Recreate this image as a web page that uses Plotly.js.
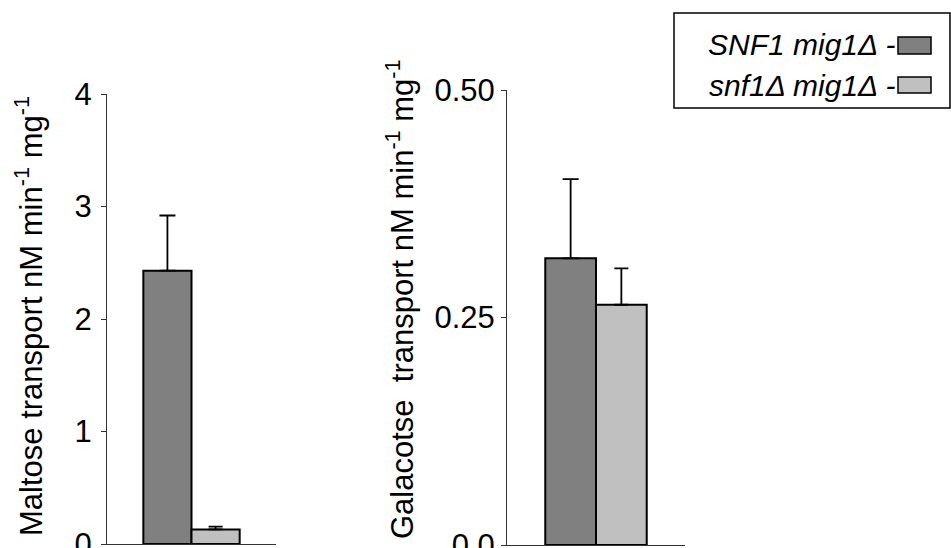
<!DOCTYPE html>
<html>
<head>
<meta charset="utf-8">
<script src="https://cdn.plot.ly/plotly-3.0.1.min.js"></script>
<style>html,body{margin:0;padding:0;background:#fff;}#chart{width:951px;height:548px;}</style>
</head>
<body>
<div id="chart"></div>
<script>
// ---- data ----
var strains = ["SNF1 mig1\u0394", "snf1\u0394 mig1\u0394"];
var maltose = [2.43, 0.13];
var maltoseErr = [0.49, 0.025];
var galactose = [0.315, 0.264];
var galactoseErr = [0.087, 0.04];
var maltoseTicks = [0, 1, 2, 3, 4];
var maltoseTickText = ["0", "1", "2", "3", "4"];
var galactoseTicks = [0, 0.25, 0.5];
var galactoseTickText = ["0.0", "0.25", "0.50"];
var maltoseTitle = "Maltose transport nM min<sup>-1</sup> mg<sup>-1</sup>";
var galactoseTitle = "Galacotse\u00a0 transport nM min<sup>-1</sup> mg<sup>-1</sup>";

var colors = ["#808080", "#c0c0c0"];
var capW = [8, 7];
var W = 951, H = 548;
function px(x){ return x / W; }
function py(y){ return (H - y) / H; }

var traces = [];
for (var i = 0; i < strains.length; i++) {
  traces.push({
    type: 'bar', name: strains[i], x: [0], y: [maltose[i]],
    xaxis: 'x', yaxis: 'y',
    marker: {color: colors[i], line: {color: '#000', width: 2}},
    error_y: {type: 'data', array: [maltoseErr[i]], arrayminus: [0], symmetric: false,
              color: '#000', thickness: 1.8, width: capW[i]},
    showlegend: false, hoverinfo: 'skip'
  });
}
for (var j = 0; j < strains.length; j++) {
  traces.push({
    type: 'bar', name: strains[j], x: [0], y: [galactose[j]],
    xaxis: 'x2', yaxis: 'y2',
    marker: {color: colors[j], line: {color: '#000', width: 2}},
    error_y: {type: 'data', array: [galactoseErr[j]], arrayminus: [0], symmetric: false,
              color: '#000', thickness: 1.8, width: capW[j]},
    showlegend: false, hoverinfo: 'skip'
  });
}

var fontFam = 'Liberation Sans, Arial, Helvetica, sans-serif';
var tickFont = {family: fontFam, size: 31, color: '#000'};

var xbase = {type: 'linear', range: [-0.5, 0.5], showticklabels: false, ticks: '',
  showgrid: false, zeroline: false, showline: true, linecolor: '#333', linewidth: 1, fixedrange: true};
var ybase = {showgrid: false, zeroline: false, showline: true, linecolor: '#333', linewidth: 1,
  ticks: 'outside', ticklen: 5, tickwidth: 1, tickcolor: '#333', tickfont: tickFont, fixedrange: true,
  ticklabeloverflow: 'allow'};

var layout = {
  width: W, height: H,
  margin: {l: 0, r: 0, t: 0, b: 0, pad: 0},
  paper_bgcolor: '#fff', plot_bgcolor: 'rgba(0,0,0,0)',
  barmode: 'group', bargap: 0.43, bargroupgap: 0,
  showlegend: false,
  xaxis: Object.assign({}, xbase, {domain: [px(107), px(276)], anchor: 'y'}),
  yaxis: Object.assign({}, ybase, {domain: [py(544), py(94)], range: [0, 4], anchor: 'x',
    tickvals: maltoseTicks, ticktext: maltoseTickText, ticklabelstandoff: 3}),
  xaxis2: Object.assign({}, xbase, {domain: [px(507), px(685)], anchor: 'y2'}),
  yaxis2: Object.assign({}, ybase, {domain: [py(545), py(90)], range: [0, 0.5], anchor: 'x2',
    tickvals: galactoseTicks, ticktext: galactoseTickText}),
  annotations: [
    {xref: 'paper', yref: 'paper', x: px(29), y: py(316), xanchor: 'center', yanchor: 'middle',
     text: maltoseTitle, textangle: -90, showarrow: false, font: {family: fontFam, size: 31, color: '#000'}},
    {xref: 'paper', yref: 'paper', x: px(400), y: py(299), xanchor: 'center', yanchor: 'middle',
     text: galactoseTitle, textangle: -90, showarrow: false, font: {family: fontFam, size: 31, color: '#000'}},
    {xref: 'paper', yref: 'paper', x: px(897), y: py(45), xanchor: 'right', yanchor: 'middle',
     text: '<i>' + strains[0] + ' -</i>', showarrow: false, font: {family: fontFam, size: 30, color: '#000'}},
    {xref: 'paper', yref: 'paper', x: px(897), y: py(85), xanchor: 'right', yanchor: 'middle',
     text: '<i>' + strains[1] + ' -</i>', showarrow: false, font: {family: fontFam, size: 30, color: '#000'}}
  ],
  shapes: [
    {type: 'rect', xref: 'paper', yref: 'paper', x0: px(674), x1: px(950), y0: py(108), y1: py(13),
     line: {color: '#000', width: 1.5}, fillcolor: 'rgba(0,0,0,0)'},
    {type: 'rect', xref: 'paper', yref: 'paper', x0: px(898), x1: px(931), y0: py(54), y1: py(37),
     line: {color: '#000', width: 1.5}, fillcolor: colors[0]},
    {type: 'rect', xref: 'paper', yref: 'paper', x0: px(898), x1: px(931), y0: py(93), y1: py(77),
     line: {color: '#000', width: 1.5}, fillcolor: colors[1]}
  ]
};

Plotly.newPlot('chart', traces, layout, {displayModeBar: false, staticPlot: true});
</script>
</body>
</html>
